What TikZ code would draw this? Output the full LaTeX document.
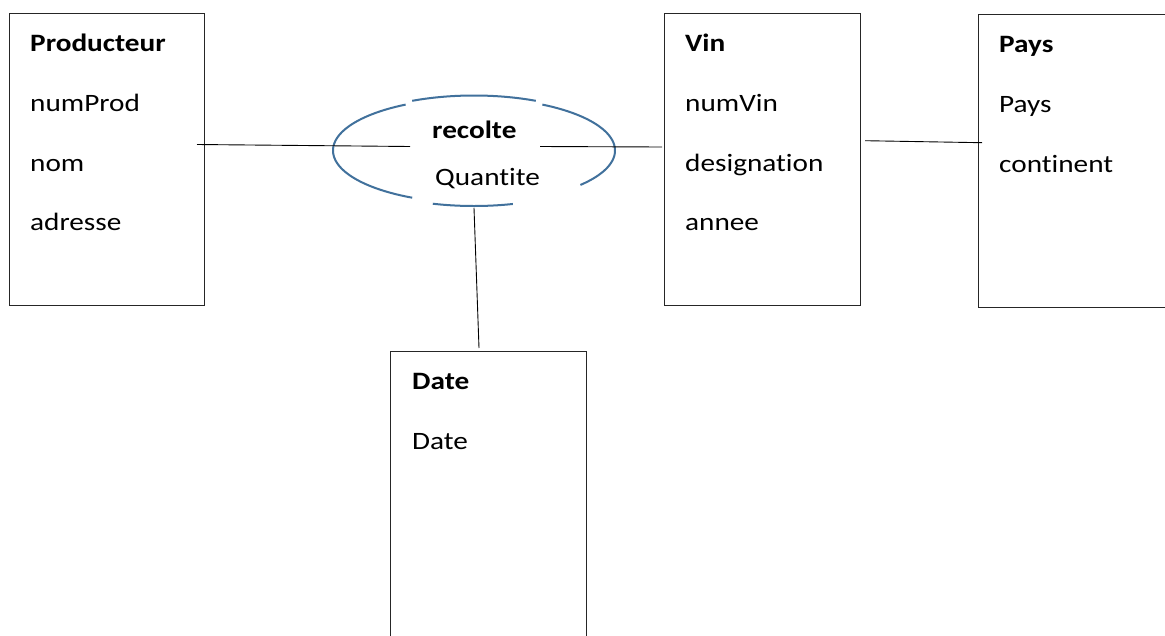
\documentclass[tikz,border=0pt]{standalone}
\usepackage{fontspec}
\setmainfont{Carlito}[FakeStretch=1.17, Ligatures=NoCommon]
\definecolor{ellblue}{HTML}{41719C}
\begin{document}
\begin{tikzpicture}[x=1pt,y=-1pt,
  entity/.style={draw=black!85, line width=0.8pt, anchor=north west, inner sep=0pt},
  attr/.style={anchor=base west, inner sep=0pt, font=\fontsize{25}{29}\selectfont},
  ttl/.style={anchor=base west, inner sep=0pt, font=\fontsize{25}{29}\selectfont\bfseries},
  link/.style={draw=black, line width=0.9pt},
  assoc/.style={draw=ellblue, line width=2pt}]
\clip (0,0) rectangle (1165,635);
\fill[white] (0,0) rectangle (1165,635);

% Producteur
\node[entity, minimum width=195pt, minimum height=292pt] (prod) at (9,13) {};
\node[ttl]  (prodT) at (30,51)  {Producteur};
\node[attr] (prodA) at (30,111) {numProd};
\node[attr] (prodB) at (30,171) {nom};
\node[attr] (prodC) at (30,230) {adresse};

% Vin
\node[entity, minimum width=196pt, minimum height=292pt] (vin) at (664,13) {};
\node[ttl]  (vinT) at (685,51)  {Vin};
\node[attr] (vinA) at (685,111) {numVin};
\node[attr] (vinB) at (685,171) {designation};
\node[attr] (vinC) at (685,230) {annee};

% Pays
\node[entity, minimum width=200pt, minimum height=293pt] (pays) at (978,14) {};
\node[ttl]  (paysT) at (999,52)  {Pays};
\node[attr] (paysA) at (999,112) {Pays};
\node[attr] (paysB) at (999,172) {continent};

% Date
\node[entity, minimum width=196pt, minimum height=300pt] (date) at (390,351) {};
\node[ttl]  (dateT) at (412,389) {Date};
\node[attr] (dateA) at (412,449) {Date};

% association recolte (ellipse drawn in pieces)
\draw[assoc] plot[domain=299:401, samples=80, smooth] ({474+141*cos(\x)},{150.5+52.5*sin(\x)});
\draw[assoc] plot[domain=74:107, samples=30, smooth] ({474+141*cos(\x)},{153.5+52.5*sin(\x)});
\draw[assoc] plot[domain=116:241, samples=80, smooth] ({474+141*cos(\x)},{150.5+52.5*sin(\x)});
\draw[assoc] plot[domain=244:296, samples=40, smooth] ({474+141*cos(\x)},{148+52.5*sin(\x)});
\node[ttl]  (recT) at (432,138) {recolte};
\node[attr] (recA) at (435,185) {Quantite};

% connectors
\coordinate (p1) at (197,144.5);
\coordinate (p2) at (410,146.5);
\coordinate (v1) at (540,146.5);
\coordinate (v2) at (662,147);
\coordinate (w1) at (865,140.7);
\coordinate (w2) at (982,142.7);
\coordinate (d1) at (474,208);
\coordinate (d2) at (479,348);
\draw[link] (p1) -- (p2);
\draw[link] (v1) -- (v2);
\draw[link] (w1) -- (w2);
\draw[link] (d1) -- (d2);
\end{tikzpicture}
\end{document}
